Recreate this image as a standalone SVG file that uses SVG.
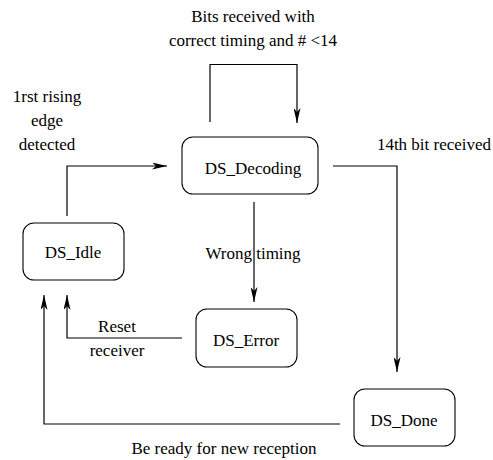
<svg xmlns="http://www.w3.org/2000/svg" width="493" height="460" viewBox="0 0 493 460">
<style>
text{font-size:17px;fill:#000;text-anchor:middle}
.box{fill:#fff;stroke:#000;stroke-width:1.1}
.c{fill:none;stroke:#000;stroke-width:1.2}
</style>
<defs>
<marker id="ah" viewBox="0 0 15 7" refX="15" refY="3.5" markerWidth="15" markerHeight="7" markerUnits="userSpaceOnUse" orient="auto">
<path d="M0,0 L15,3.5 L0,7 L4,3.5 Z" fill="#000"/>
</marker>
</defs>
<rect width="493" height="460" fill="#fff"/>
<g id="connectors">
<path class="c" d="M210,122 V64.5 H297 V123" marker-end="url(#ah)"/>
<path class="c" d="M67,216 V166 H167" marker-end="url(#ah)"/>
<path class="c" d="M333,166 H397 V372" marker-end="url(#ah)"/>
<path class="c" d="M254,202 V302" marker-end="url(#ah)"/>
<path class="c" d="M182,338 H67 V295" marker-end="url(#ah)"/>
<path class="c" d="M340,424 H44 V295" marker-end="url(#ah)"/>
</g>
<g font-family="Liberation Serif, Times New Roman, Times, DejaVu Serif, serif">
<g id="labels">
<text x="253" y="22">Bits received with</text>
<text x="253" y="46">correct timing and # &lt;14</text>
<text x="47" y="102">1rst rising</text>
<text x="47" y="126">edge</text>
<text x="47" y="150">detected</text>
<text x="434" y="150">14th bit received</text>
<text x="253" y="259">Wrong timing</text>
<text x="117" y="332">Reset</text>
<text x="117" y="356">receiver</text>
<text x="224" y="454">Be ready for new reception</text>
</g>
<g id="DS_Decoding">
<rect class="box" x="182" y="137" width="136" height="57" rx="11"/>
<text x="253" y="174">DS_Decoding</text>
</g>
<g id="DS_Idle">
<rect class="box" x="23" y="223" width="101" height="57" rx="11"/>
<text x="73" y="258">DS_Idle</text>
</g>
<g id="DS_Error">
<rect class="box" x="196" y="309" width="101" height="58" rx="11"/>
<text x="246" y="346">DS_Error</text>
</g>
<g id="DS_Done">
<rect class="box" x="354" y="389" width="101" height="57" rx="11"/>
<text x="404" y="426">DS_Done</text>
</g>
</g>
</svg>
